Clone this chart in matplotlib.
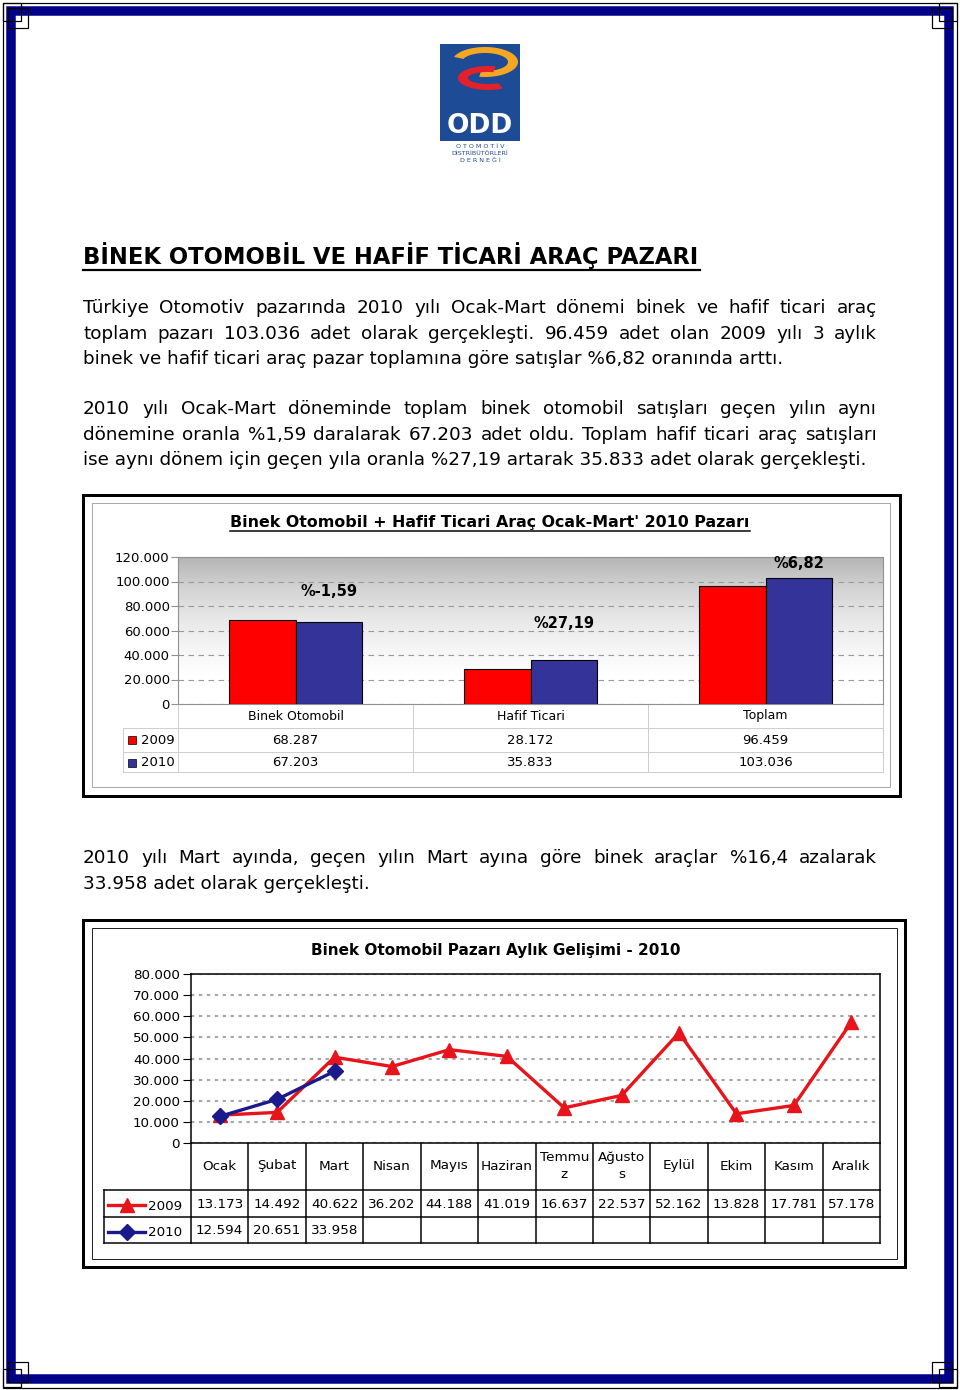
import numpy as np
import matplotlib
matplotlib.use('Agg')
import matplotlib.pyplot as plt
from matplotlib.patches import Rectangle, Polygon
from matplotlib.colors import LinearSegmentedColormap
from matplotlib.lines import Line2D

W, H = 960, 1390

# --- page text ---
title = 'BİNEK OTOMOBİL VE HAFİF TİCARİ ARAÇ PAZARI'
par1 = ['Türkiye Otomotiv pazarında 2010 yılı Ocak-Mart dönemi binek ve hafif ticari araç',
        'toplam pazarı 103.036 adet olarak gerçekleşti. 96.459 adet olan 2009 yılı 3 aylık',
        'binek ve hafif ticari araç pazar toplamına göre satışlar %6,82 oranında arttı.']
par2 = ['2010 yılı Ocak-Mart döneminde toplam binek otomobil satışları geçen yılın aynı',
        'dönemine oranla %1,59 daralarak 67.203 adet oldu. Toplam hafif ticari araç satışları',
        'ise aynı dönem için geçen yıla oranla %27,19 artarak 35.833 adet olarak gerçekleşti.']
par3 = ['2010 yılı Mart ayında, geçen yılın Mart ayına göre binek araçlar %16,4 azalarak',
        '33.958 adet olarak gerçekleşti.']

# --- chart 1: bar chart ---
bar_title = "Binek Otomobil + Hafif Ticari Araç Ocak-Mart' 2010 Pazarı"
bar_cats = ['Binek Otomobil', 'Hafif Ticari', 'Toplam']
bar_2009 = [68287, 28172, 96459]
bar_2010 = [67203, 35833, 103036]
bar_change = ['%-1,59', '%27,19', '%6,82']
bar_change_y = [92000, 66000, 115000]

# --- chart 2: monthly line chart ---
line_title = 'Binek Otomobil Pazarı Aylık Gelişimi - 2010'
months = ['Ocak', 'Şubat', 'Mart', 'Nisan', 'Mayıs', 'Haziran',
          'Temmu\nz', 'Ağusto\ns', 'Eylül', 'Ekim', 'Kasım', 'Aralık']
sales_2009 = [13173, 14492, 40622, 36202, 44188, 41019,
              16637, 22537, 52162, 13828, 17781, 57178]
sales_2010 = [12594, 20651, 33958]

RED = '#ff0000'
BLUE = '#333399'
LRED = '#e8141c'
NAVY = '#1a1a8c'


def fmt(v):
    return f'{v:,}'.replace(',', '.')


def box(x0, y0, x1, y1):
    return [x0 / W, 1 - y1 / H, (x1 - x0) / W, (y1 - y0) / H]


def lw(px):
    return px * 0.72


fig = plt.figure(figsize=(W / 100, H / 100), dpi=100)
page = fig.add_axes([0, 0, 1, 1])
page.set_xlim(0, W)
page.set_ylim(H, 0)
page.axis('off')
renderer = fig.canvas.get_renderer()


def text_w(s, fs, **kw):
    t = page.text(0, 0, s, fontsize=fs, **kw)
    w = t.get_window_extent(renderer).width
    t.remove()
    return w


def fit_fs(s, width, **kw):
    return 10 * width / text_w(s, 10, **kw)


# page border
page.add_patch(Rectangle((11, 10.5), 937.5, 1368, fill=False, ec='#000088', lw=lw(9.5)))
page.add_patch(Rectangle((3, 2.5), 954, 1385, fill=False, ec='black', lw=lw(1.2)))
for cx, cy, sx, sy in [(3, 3, 1, 1), (957, 3, -1, 1), (3, 1387, 1, -1), (957, 1387, -1, -1)]:
    page.add_patch(Rectangle((cx, cy), 18 * sx, 18 * sy, fill=False, ec='black', lw=lw(1.2), zorder=3))
    page.add_patch(Rectangle((cx + 5 * sx, cy + 5 * sy), 20 * sx, 20 * sy, fill=False, ec='black',
                             lw=lw(1.2), zorder=3))

# logo
LOGO_BLUE = '#1e4b96'
page.add_patch(Rectangle((440, 44), 80, 97, fc=LOGO_BLUE, ec='none'))


def band(cx, cy, rx, ry, t0, t1, th):
    t = np.radians(np.linspace(t0, t1, 60))
    outer = np.c_[cx + rx * np.cos(t), cy - ry * np.sin(t)]
    inner = np.c_[cx + (rx - th) * np.cos(t[::-1]), cy - (ry - th * 0.6) * np.sin(t[::-1])]
    return Polygon(np.r_[outer, inner], closed=True)


yb = band(485, 62, 33, 15, 160, -100, 10)
yb.set_fc('#f5a623'); yb.set_ec('none')
page.add_patch(yb)
rb = band(488, 78, 30, 12, 75, 300, 10)
rb.set_fc('#e4202a'); rb.set_ec('none')
page.add_patch(rb)
page.text(480, 126, 'ODD', color='white', fontsize=19, fontweight='bold',
          ha='center', va='center')
for yy, s in [(147, 'O T O M O T İ V'), (153.5, 'DİSTRİBÜTÖRLERİ'), (160, 'D E R N E Ğ İ')]:
    page.text(480, yy, s, color=LOGO_BLUE, fontsize=4.6, ha='center', va='center')

# title
tfs = fit_fs(title, 617, fontweight='bold')
page.text(83, 264, title, fontsize=tfs, fontweight='bold', va='baseline')
page.plot([83, 700], [269.5, 269.5], color='black', lw=lw(2.2))

# body text
body_fs = fit_fs(par1[-1], 700)


def paragraph(lines, y0, lh=25.6, x0=83, x1=877):
    for i, line in enumerate(lines):
        y = y0 + i * lh
        if i == len(lines) - 1:
            page.text(x0, y, line, fontsize=body_fs, va='baseline')
            continue
        words = line.split()
        ts = [page.text(0, y, w, fontsize=body_fs, va='baseline') for w in words]
        ws = [t.get_window_extent(renderer).width for t in ts]
        gap = (x1 - x0 - sum(ws)) / (len(ws) - 1)
        x = x0
        for t, w in zip(ts, ws):
            t.set_x(x)
            x += w + gap


paragraph(par1, 313.3)
paragraph(par2, 414)
paragraph(par3, 863)

# ================= chart 1 =================
page.add_patch(Rectangle((83, 495), 817, 301, fill=False, ec='black', lw=lw(3)))
page.add_patch(Rectangle((92, 503), 798, 284, fill=False, ec='#a8a8a8', lw=lw(1)))
bfs = fit_fs(bar_title, 520, fontweight='bold')
page.text(490, 527, bar_title, fontsize=bfs, fontweight='bold', ha='center', va='baseline')
page.plot([230, 750], [530.5, 530.5], color='black', lw=lw(1.5))

X0, X1, Y0, Y1 = 178, 883, 557, 704
ax1 = fig.add_axes(box(X0, Y0, X1, Y1))
x = np.arange(len(bar_cats))
bw = 0.285
cmap = LinearSegmentedColormap.from_list(
    'g', ['#b4b4b4', '#d2d2d2', '#e6e6e6', '#f4f4f4', '#ffffff', '#ffffff'])
ax1.imshow(np.linspace(0, 1, 256)[:, None], extent=[-0.5, 2.5, 0, 120000],
           aspect='auto', cmap=cmap, zorder=0)
ax1.bar(x - bw / 2, bar_2009, bw, color=RED, edgecolor='black', lw=0.8, zorder=3)
ax1.bar(x + bw / 2, bar_2010, bw, color=BLUE, edgecolor='black', lw=0.8, zorder=3)
for xi, lab, ly in zip(x, bar_change, bar_change_y):
    ax1.text(xi + bw / 2, ly, lab, ha='center', va='center', fontsize=10.5,
             fontweight='bold', zorder=4)
ax1.set_xlim(-0.5, 2.5)
ax1.set_ylim(0, 120000)
ax1.set_yticks(range(0, 120001, 20000))
ax1.set_yticklabels([fmt(v) for v in range(0, 120001, 20000)])
ax1.set_xticks([])
ax1.yaxis.grid(True, ls=(0, (5, 4)), color='#9a9a9a', lw=0.8, zorder=1)
ax1.set_axisbelow(True)
ax1.tick_params(axis='y', length=5, color='#909090', labelsize=9.5, pad=1)
for s in ax1.spines.values():
    s.set_color('#909090')
    s.set_linewidth(0.8)

# data table under bar chart
GRID = '#cfcfcf'
cw = (X1 - X0) / len(bar_cats)
rows = [704, 728, 752, 772]
for i in range(len(bar_cats) + 1):
    page.plot([X0 + i * cw] * 2, [rows[0], rows[-1]], color=GRID, lw=lw(1))
page.plot([123, 123], [rows[1], rows[-1]], color=GRID, lw=lw(1))
for r in rows[1:]:
    page.plot([123, X1], [r, r], color=GRID, lw=lw(1))
for i, c in enumerate(bar_cats):
    cx = X0 + (i + 0.5) * cw
    page.text(cx, 716, c, ha='center', va='center', fontsize=9)
    page.text(cx, 740, fmt(bar_2009[i]), ha='center', va='center', fontsize=9.5)
    page.text(cx, 763, fmt(bar_2010[i]), ha='center', va='center', fontsize=9.5)
for yy, col, lab in [(740, RED, '2009'), (763, BLUE, '2010')]:
    page.add_patch(Rectangle((128, yy - 4), 8, 8, fc=col, ec='black', lw=0.5))
    page.text(141, yy, lab, va='center', fontsize=9.5)

# ================= chart 2 =================
page.add_patch(Rectangle((83, 920), 822, 347, fill=False, ec='black', lw=lw(3)))
page.add_patch(Rectangle((92, 928), 805, 331, fill=False, ec='#222222', lw=lw(1)))
lfs = fit_fs(line_title, 370, fontweight='bold')
page.text(496, 955, line_title, fontsize=lfs, fontweight='bold', ha='center', va='baseline')

L0, L1, T0, T1 = 191, 880, 974, 1143
ax2 = fig.add_axes(box(L0, T0, L1, T1))
ax2.plot(range(len(sales_2009)), sales_2009, color=LRED, lw=2.4, marker='^', ms=10,
         mec=LRED, mfc=LRED, zorder=3)
ax2.plot(range(len(sales_2010)), sales_2010, color=NAVY, lw=2.4, marker='D', ms=8,
         mec=NAVY, mfc=NAVY, zorder=4)
ax2.set_xlim(-0.5, len(months) - 0.5)
ax2.set_ylim(0, 80000)
ax2.set_yticks(range(0, 80001, 10000))
ax2.set_yticklabels([fmt(v) for v in range(0, 80001, 10000)])
ax2.set_xticks([])
ax2.yaxis.grid(True, ls=(0, (1.6, 2.2)), color='#a8a8a8', lw=1.5, zorder=1)
ax2.set_axisbelow(True)
ax2.tick_params(axis='y', length=6, color='black', labelsize=9.7, pad=2)
for s in ax2.spines.values():
    s.set_color('black')
    s.set_linewidth(1.1)

mw = (L1 - L0) / len(months)
rows2 = [1143, 1190, 1217, 1243]
for i in range(len(months) + 1):
    page.plot([L0 + i * mw] * 2, [rows2[0], rows2[-1]], color='black', lw=lw(1.5))
page.plot([104, 104], [rows2[1], rows2[-1]], color='black', lw=lw(1.5))
for r in rows2[1:]:
    page.plot([104, L1], [r, r], color='black', lw=lw(1.5))
for i, m in enumerate(months):
    cx = L0 + (i + 0.5) * mw
    page.text(cx, 1166, m, ha='center', va='center', fontsize=9.7, linespacing=1.45)
    page.text(cx, 1204, fmt(sales_2009[i]), ha='center', va='center', fontsize=9.7)
    if i < len(sales_2010):
        page.text(cx, 1230, fmt(sales_2010[i]), ha='center', va='center', fontsize=9.7)
for yy, col, mk, ms, lab in [(1205, LRED, '^', 10, '2009'), (1232, NAVY, 'D', 8, '2010')]:
    page.add_line(Line2D([108, 145], [yy, yy], color=col, lw=2.4))
    page.add_line(Line2D([126.5], [yy], color=col, marker=mk, ms=ms, mec=col, mfc=col))
    page.text(148, yy + 1, lab, va='center', fontsize=9.7)

fig.savefig('out.png', dpi=100)
